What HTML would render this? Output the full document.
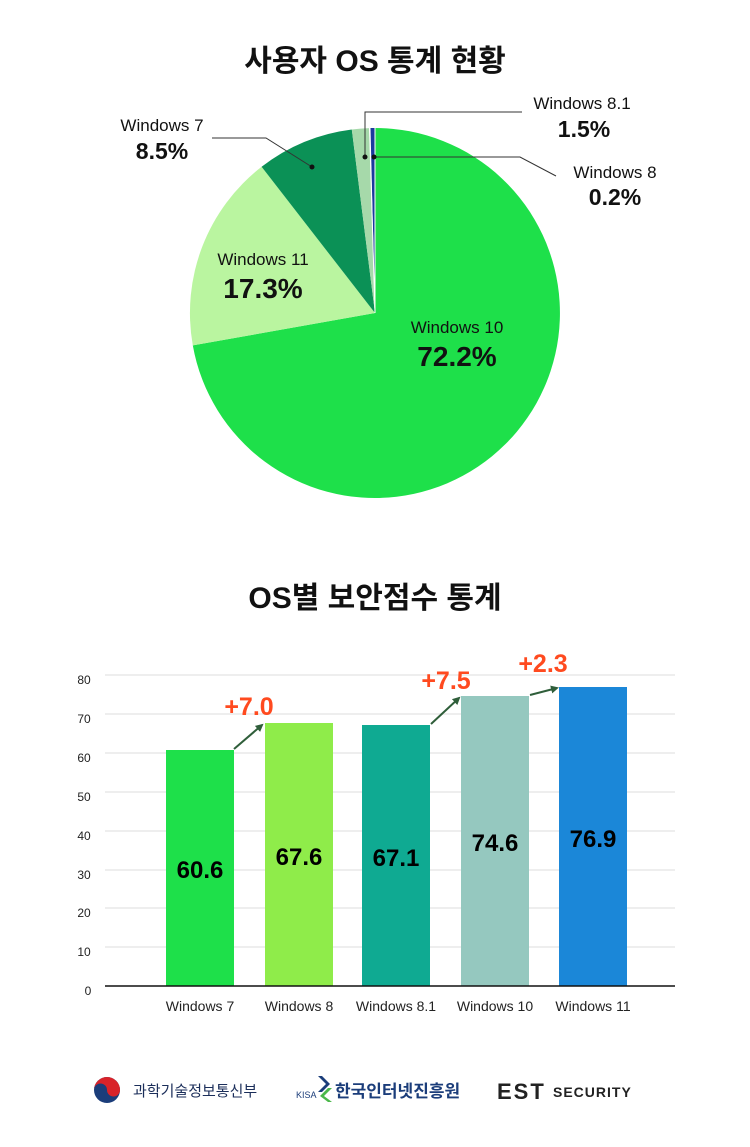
<!DOCTYPE html>
<html><head><meta charset="utf-8"><style>
html,body{margin:0;padding:0;background:#fff;}
body{width:750px;height:1142px;overflow:hidden;font-family:"Liberation Sans","Noto Sans CJK KR",sans-serif;}
</style></head><body>
<svg width="750" height="1142" viewBox="0 0 750 1142" xmlns="http://www.w3.org/2000/svg" font-family="Liberation Sans, Noto Sans CJK KR, sans-serif">
<text x="375" y="71" text-anchor="middle" font-size="30" font-weight="bold" fill="#111">사용자 OS 통계 현황</text>
<path d="M375,313 L375,128 A185,185 0 1 1 192.8,345.4 Z" fill="#1ee04a"/>
<path d="M375,313 L192.8,345.4 A185,185 0 0 1 261.6,166.8 Z" fill="#baf5a0"/>
<path d="M375,313 L261.6,166.8 A185,185 0 0 1 351.8,129.5 Z" fill="#0b9156"/>
<path d="M375,313 L351.8,129.5 A185,185 0 0 1 369.2,128.1 Z" fill="#a6d9aa"/>
<path d="M375,313 L370.5,128 L375,128 Z" fill="#1b3a9e"/>
<g stroke="#fff" stroke-width="1"><line x1="375" y1="313" x2="375" y2="128"/><line x1="375" y1="313" x2="369.5" y2="128"/></g>
<g stroke="#333" stroke-width="1" fill="none">
<polyline points="365,157 365,112 522,112"/>
<polyline points="374,157 520,157 556,176"/>
<polyline points="312,167 266,138 212,138"/>
</g>
<circle cx="365" cy="157" r="2.5" fill="#111"/><circle cx="374" cy="157" r="2.5" fill="#111"/><circle cx="312" cy="167" r="2.5" fill="#111"/>
<g fill="#111">
<text x="582" y="109" text-anchor="middle" font-size="17">Windows 8.1</text>
<text x="584" y="137" text-anchor="middle" font-size="23" font-weight="bold">1.5%</text>
<text x="615" y="178" text-anchor="middle" font-size="17">Windows 8</text>
<text x="615" y="205" text-anchor="middle" font-size="23" font-weight="bold">0.2%</text>
<text x="162" y="131" text-anchor="middle" font-size="17">Windows 7</text>
<text x="162" y="159" text-anchor="middle" font-size="23" font-weight="bold">8.5%</text>
<text x="263" y="265" text-anchor="middle" font-size="17">Windows 11</text>
<text x="263" y="298" text-anchor="middle" font-size="28" font-weight="bold">17.3%</text>
<text x="457" y="333" text-anchor="middle" font-size="17">Windows 10</text>
<text x="457" y="366" text-anchor="middle" font-size="28" font-weight="bold">72.2%</text>
</g>
<text x="375" y="608" text-anchor="middle" font-size="30" font-weight="bold" fill="#111">OS별 보안점수 통계</text>
<g stroke="#eee" stroke-width="2">
<line x1="105" y1="675" x2="675" y2="675"/><line x1="105" y1="714" x2="675" y2="714"/><line x1="105" y1="753" x2="675" y2="753"/><line x1="105" y1="792" x2="675" y2="792"/><line x1="105" y1="831" x2="675" y2="831"/><line x1="105" y1="870" x2="675" y2="870"/><line x1="105" y1="908" x2="675" y2="908"/><line x1="105" y1="947" x2="675" y2="947"/>
</g>
<g font-size="12" fill="#222" text-anchor="middle">
<text x="84" y="684">80</text><text x="84" y="723">70</text><text x="84" y="762">60</text><text x="84" y="801">50</text><text x="84" y="840">40</text><text x="84" y="879">30</text><text x="84" y="917">20</text><text x="84" y="956">10</text><text x="88" y="995">0</text>
</g>
<rect x="166" y="750" width="68" height="236" fill="#1ee04a"/>
<rect x="265" y="723" width="68" height="263" fill="#8fec4a"/>
<rect x="362" y="725" width="68" height="261" fill="#0faa92"/>
<rect x="461" y="696" width="68" height="290" fill="#95c8bf"/>
<rect x="559" y="687" width="68" height="299" fill="#1b87d8"/>
<line x1="105" y1="986" x2="675" y2="986" stroke="#111" stroke-width="1.5"/>
<g font-size="24" font-weight="bold" fill="#000" text-anchor="middle">
<text x="200" y="878">60.6</text><text x="299" y="865">67.6</text><text x="396" y="866">67.1</text><text x="495" y="851">74.6</text><text x="593" y="847">76.9</text>
</g>
<g font-size="14" fill="#222" text-anchor="middle">
<text x="200" y="1011">Windows 7</text><text x="299" y="1011">Windows 8</text><text x="396" y="1011">Windows 8.1</text><text x="495" y="1011">Windows 10</text><text x="593" y="1011">Windows 11</text>
</g>
<defs><marker id="ar" markerWidth="8" markerHeight="8" refX="6" refY="4" orient="auto" markerUnits="userSpaceOnUse"><path d="M0,0 L8,4 L0,8 Z" fill="#2f5e3a"/></marker></defs>
<g stroke="#2f5e3a" stroke-width="2" fill="none">
<line x1="234" y1="749" x2="262" y2="725" marker-end="url(#ar)"/>
<line x1="431" y1="724" x2="459" y2="698" marker-end="url(#ar)"/>
<line x1="530" y1="695" x2="557" y2="688" marker-end="url(#ar)"/>
</g>
<g font-size="25" font-weight="bold" fill="#ff4a1f" text-anchor="middle">
<text x="249" y="715">+7.0</text><text x="446" y="689">+7.5</text><text x="543" y="672">+2.3</text>
</g>
<circle cx="107" cy="1090" r="13" fill="#1b3d7a"/>
<path d="M94,1090 A13,13 0 0 1 120,1090 A6.5,6.5 0 0 1 107,1090 A6.5,6.5 0 0 0 94,1090 Z" fill="#d8232a"/>
<text x="133" y="1096" font-size="15" fill="#1b2e5a">과학기술정보통신부</text>
<text x="296" y="1098" font-size="9" fill="#1b3d7a">KISA</text>
<path d="M318,1076 L326,1084 L318,1092 L322,1092 L330,1084 L322,1076 Z" fill="#1b3d7a"/>
<path d="M328,1088 L320,1096 L328,1102 L332,1102 L324,1096 L332,1088 Z" fill="#4bb84a"/>
<text x="335" y="1097" font-size="17" font-weight="bold" fill="#1b3d7a">한국인터넷진흥원</text>
<text x="497" y="1099" font-size="22" font-weight="bold" fill="#222" letter-spacing="2">EST</text>
<text x="553" y="1097" font-size="14" font-weight="bold" fill="#222" letter-spacing="1">SECURITY</text>
</svg>
</body></html>
